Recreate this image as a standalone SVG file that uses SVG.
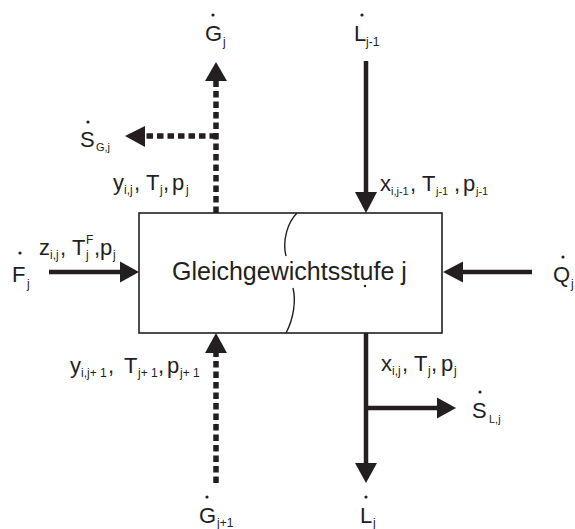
<svg xmlns="http://www.w3.org/2000/svg" width="575" height="529" viewBox="0 0 575 529">
<defs>
<style>
text{font-family:"Liberation Sans",Arial,sans-serif;fill:#231f20}
.m{font-size:22px}
.s{font-size:12px}
.t{font-size:11px}
.solid{stroke:#231f20;stroke-width:4.5;fill:none}
.dash{stroke:#231f20;stroke-width:5.5;fill:none;stroke-dasharray:6.5 4}
.head{fill:#231f20}
.dot{fill:#231f20}
</style>
</defs>
<rect width="575" height="529" fill="#ffffff"/>
<g id="stage">
<rect x="139" y="213" width="303" height="120" fill="#ffffff" stroke="#231f20" stroke-width="1.6"/>
<path d="M297,213 C288,222 282,240 286,256" fill="none" stroke="#231f20" stroke-width="1.4"/>
<path d="M293,288 C296,300 294,318 286,333" fill="none" stroke="#231f20" stroke-width="1.4"/>
<circle class="dot" cx="365" cy="286" r="1.2"/>
<text x="172" y="280" style="font-size:25px">Gleichgewichtsstufe j</text>
</g>
<g id="connectors">
<line class="dash" x1="216" y1="213" x2="216" y2="80"/>
<polygon class="head" points="216,62 205,81 227,81"/>
<line class="dash" x1="216" y1="136" x2="144" y2="136"/>
<polygon class="head" points="125,136 145,126 145,147"/>
<line class="solid" x1="366" y1="61" x2="366" y2="193"/>
<polygon class="head" points="366,213 355,192 377,192"/>
<line class="solid" x1="49" y1="272" x2="121" y2="272"/>
<polygon class="head" points="139,272 120,261.5 120,282.5"/>
<line class="solid" x1="532" y1="272" x2="462" y2="272"/>
<polygon class="head" points="443,272 463,261.5 463,282.5"/>
<line class="dash" x1="216" y1="483" x2="216" y2="352"/>
<polygon class="head" points="216,333 205,353 227,353"/>
<line class="solid" x1="366" y1="333" x2="366" y2="464"/>
<polygon class="head" points="366,483 355,463 377,463"/>
<line class="solid" x1="366" y1="408" x2="438" y2="408"/>
<polygon class="head" points="456,408 437,397.5 437,418.5"/>
</g>
<g id="label-Gj">
<circle class="dot" cx="213" cy="15" r="1.6"/>
<text class="m" x="205" y="41">G</text><text class="s" x="223" y="46">j</text>
</g>
<g id="label-Lj-1">
<circle class="dot" cx="362" cy="15" r="1.6"/>
<text class="m" x="354" y="41">L</text><text class="s" x="366" y="46">j-1</text>
</g>
<g id="label-SGj">
<circle class="dot" cx="88" cy="122" r="1.6"/>
<text class="m" x="80" y="147">S</text><text class="t" x="96" y="151">G,j</text>
</g>
<g id="label-vapour-out">
<text><tspan class="m" x="113" y="190">y</tspan><tspan class="s" x="124" y="194">i,j</tspan><tspan class="m" x="134" y="190">,</tspan><tspan class="m" x="146" y="190">T</tspan><tspan class="s" x="160" y="194">j</tspan><tspan class="m" x="163" y="190">,</tspan><tspan class="m" x="172" y="190">p</tspan><tspan class="s" x="186" y="194">j</tspan></text>
</g>
<g id="label-liquid-in">
<text><tspan class="m" x="380" y="191">x</tspan><tspan class="t" x="391" y="195">i,j-1</tspan><tspan class="m" x="410" y="191">,</tspan><tspan class="m" x="422" y="191">T</tspan><tspan class="t" x="436" y="195">j-1</tspan><tspan class="m" x="454" y="191">,</tspan><tspan class="m" x="463" y="191">p</tspan><tspan class="t" x="476" y="195">j-1</tspan></text>
</g>
<g id="label-Fj">
<circle class="dot" cx="20" cy="253" r="1.6"/>
<text class="m" x="12" y="282">F</text><text class="s" x="27" y="288">j</text>
</g>
<g id="label-feed">
<text><tspan class="m" x="39" y="255">z</tspan><tspan class="s" x="50" y="259">i,j</tspan><tspan class="m" x="60" y="255">,</tspan><tspan class="m" x="72" y="255">T</tspan><tspan class="s" x="86" y="259">j</tspan><tspan class="s" x="86" y="244">F</tspan><tspan class="m" x="94" y="255">,</tspan><tspan class="m" x="100" y="255">p</tspan><tspan class="s" x="113" y="259">j</tspan></text>
</g>
<g id="label-Qj">
<circle class="dot" cx="563" cy="257" r="1.6"/>
<text class="m" x="553" y="282">Q</text><text class="s" x="571" y="288">j</text>
</g>
<g id="label-vapour-in">
<text><tspan class="m" x="70" y="373">y</tspan><tspan class="s" x="81" y="377">i,j+ 1</tspan><tspan class="m" x="108" y="373">,</tspan><tspan class="m" x="124" y="373">T</tspan><tspan class="s" x="138" y="377">j+ 1</tspan><tspan class="m" x="158" y="373">,</tspan><tspan class="m" x="167" y="373">p</tspan><tspan class="s" x="180" y="377">j+ 1</tspan></text>
</g>
<g id="label-liquid-out">
<text><tspan class="m" x="381" y="371">x</tspan><tspan class="s" x="392" y="375">i,j</tspan><tspan class="m" x="402" y="371">,</tspan><tspan class="m" x="414" y="371">T</tspan><tspan class="s" x="428" y="375">j</tspan><tspan class="m" x="431" y="371">,</tspan><tspan class="m" x="441" y="371">p</tspan><tspan class="s" x="454" y="375">j</tspan></text>
</g>
<g id="label-SLj">
<circle class="dot" cx="480" cy="392" r="1.6"/>
<text class="m" x="472" y="418">S</text><text class="t" x="489" y="423">L,j</text>
</g>
<g id="label-Gj+1">
<circle class="dot" cx="207" cy="497" r="1.6"/>
<text class="m" x="199" y="523">G</text><text class="s" x="217" y="527">j+1</text>
</g>
<g id="label-Lj">
<circle class="dot" cx="366" cy="497" r="1.6"/>
<text class="m" x="360" y="523">L</text><text class="s" x="373" y="527">j</text>
</g>
</svg>
